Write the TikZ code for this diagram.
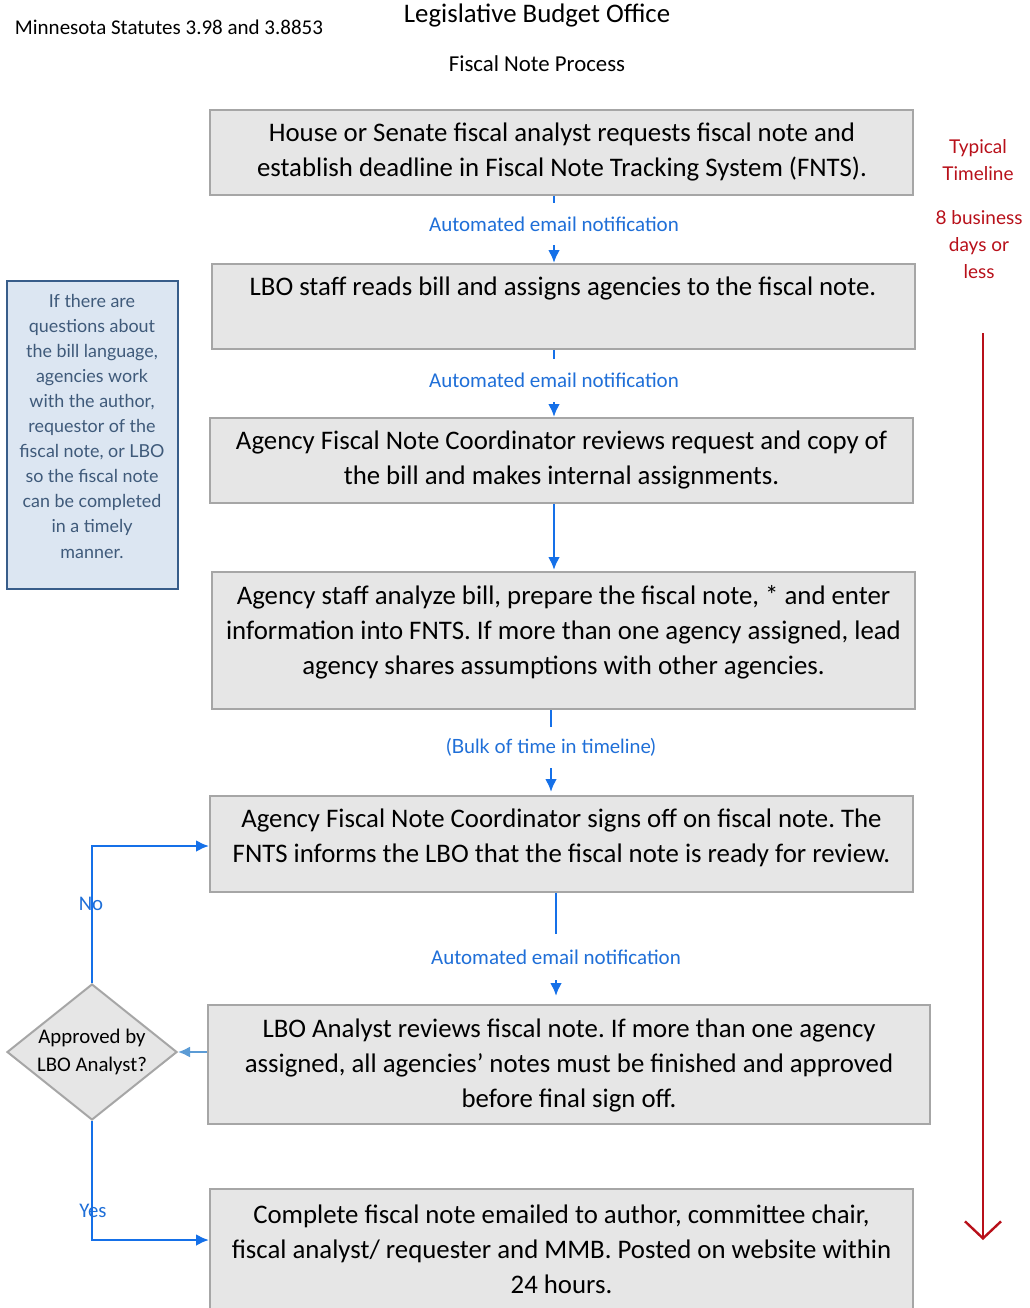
\documentclass[tikz,border=0pt]{standalone}
\usepackage{fontspec}
\setmainfont{Carlito}
\newfontfamily\latofont{Lato}
\usetikzlibrary{arrows.meta,shapes.geometric}
\definecolor{boxfill}{HTML}{E6E6E6}
\definecolor{boxborder}{HTML}{A6A6A6}
\definecolor{connblue}{HTML}{1570E8}
\definecolor{lblblue}{HTML}{1F6FD8}
\definecolor{sidefill}{HTML}{DCE6F2}
\definecolor{sideborder}{HTML}{385D8A}
\definecolor{sidetext}{HTML}{3F5A7A}
\definecolor{tlred}{HTML}{B8101A}
\definecolor{lightarrow}{HTML}{5B9BD5}
\frenchspacing
\begin{document}
\begin{tikzpicture}[x=1pt,y=-1pt,
  box/.style={draw=boxborder, fill=boxfill, line width=2pt, inner sep=0pt},
  boxtext/.style={align=center, inner sep=0pt, font=\fontsize{26.8}{35}\selectfont},
  conn/.style={draw=connblue, line width=2.8pt},
  tip/.style={-{Latex[length=13pt,width=12pt]}},
  lbl/.style={fill=white, inner sep=0pt, text=lblblue, font=\fontsize{21}{24}\selectfont},
  hdr/.style={inner sep=0pt, font=\fontsize{21}{24}\selectfont}
]
\useasboundingbox (0,0) rectangle (1029,1308);

% header
\node[hdr] (h1) at (169,27) {Minnesota Statutes 3.98 and 3.8853};
\node[inner sep=0pt, font=\fontsize{26.8}{30}\selectfont] (h2) at (537,16) {Legislative Budget Office};
\node[inner sep=0pt, font=\fontsize{22.8}{26}\selectfont] (h3) at (537,64) {Fiscal Note Process};

% boxes
\node[box, minimum width=703pt, minimum height=85pt] (b1) at (561.5,152.5) {};
\node[box, minimum width=703pt, minimum height=85pt] (b2) at (563.5,306.5) {};
\node[box, minimum width=703pt, minimum height=85pt] (b3) at (561.5,460.5) {};
\node[box, minimum width=703pt, minimum height=137pt] (b4) at (563.5,640.5) {};
\node[box, minimum width=703pt, minimum height=96pt] (b5) at (561.5,844) {};
\node[box, minimum width=722pt, minimum height=119pt] (b6) at (569,1064.5) {};
\node[box, minimum width=703pt, minimum height=135pt] (b7) at (561.5,1256.5) {};

\node[boxtext] (t1) at (562,151.5) {House or Senate fiscal analyst requests fiscal note and\\establish deadline in Fiscal Note Tracking System (FNTS).};
\node[boxtext] (t2) at (563,288) {LBO staff reads bill and assigns agencies to the fiscal note.};
\node[boxtext] (t3) at (561.5,459.5) {Agency Fiscal Note Coordinator reviews request and copy of\\the bill and makes internal assignments.};
\node[boxtext] (t4) at (563.5,632) {Agency staff analyze bill, prepare the fiscal note, * and enter\\information into FNTS. If more than one agency assigned, lead\\agency shares assumptions with other agencies.};
\node[boxtext] (t5) at (561.5,837.5) {Agency Fiscal Note Coordinator signs off on fiscal note. The\\FNTS informs the LBO that the fiscal note is ready for review.};
\node[boxtext] (t6) at (569,1065) {LBO Analyst reviews fiscal note. If more than one agency\\assigned, all agencies' notes must be finished and approved\\before final sign off.};
\node[boxtext] (t7) at (561.5,1249) {Complete fiscal note emailed to author, committee chair,\\fiscal analyst/ requester and MMB. Posted on website within\\24 hours.};

% vertical connectors
\coordinate (x1) at (554,0);
\coordinate (x4) at (551,0);
\coordinate (x5) at (556,0);
\draw[conn, tip] (b1.south -| x1) -- node[lbl, pos=0.42, minimum height=42pt] (l1) {Automated email notification} (b2.north -| x1);
\draw[conn, tip] (b2.south -| x1) -- node[lbl, pos=0.45, minimum height=43pt] (l2) {Automated email notification} (b3.north -| x1);
\draw[conn, tip, shorten >=1pt] (b3.south -| x1) -- (b4.north -| x1);
\draw[conn, tip, shorten >=3pt] (b4.south -| x4) -- node[lbl, pos=0.44, minimum height=41pt, font=\latofont\fontsize{19.6}{22}\selectfont] (l3) {(Bulk of time in timeline)} (b5.north -| x4);
\draw[conn, tip, shorten >=8pt] (b5.south -| x5) -- node[lbl, pos=0.58, minimum height=46pt] (l4) {Automated email notification} (b6.north -| x5);

% sidebar
\node[draw=sideborder, fill=sidefill, line width=2pt, minimum width=171pt, minimum height=308pt, inner sep=0pt] (side) at (92.5,435) {};
\node[align=center, inner sep=0pt, text=sidetext, font=\latofont\fontsize{17.9}{25.1}\selectfont] (sidet) at (92,426) {If there are\\questions about\\the bill language,\\agencies work\\with the author,\\requestor of the\\fiscal note, or LBO\\so the fiscal note\\can be completed\\in a timely\\manner.};

% timeline
\node[align=center, inner sep=0pt, text=tlred, font=\latofont\fontsize{19}{27}\selectfont] (tl1) at (978,160.5) {Typical\\Timeline};
\node[align=center, inner sep=0pt, text=tlred, font=\latofont\fontsize{19}{27}\selectfont] (tl2) at (979,245) {8 business\\days or\\less};
\coordinate (rtop) at (983,333);
\coordinate (rbot) at (983,1240);
\draw[draw=tlred, line width=2pt, -{Straight Barb[length=17pt,width=36pt,line width=2.4pt]}] (rtop) -- (rbot);

% decision
\node[diamond, draw=boxborder, fill=boxfill, line width=2pt, minimum width=170pt, minimum height=136pt, inner sep=0pt] (dia) at (92,1052) {};
\node[align=center, inner sep=0pt, font=\fontsize{20.8}{28}\selectfont] (diat) at (92,1052) {Approved by\\LBO Analyst?};

\draw[draw=lightarrow, line width=2pt, -{Latex[length=12pt,width=11pt]}] (b6.west |- dia.east) -- (dia.east);

\coordinate (noy) at (0,846);
\coordinate (yesy) at (0,1240);
\draw[conn, tip] (dia.north) |- (b5.west |- noy);
\draw[conn, tip] (dia.south) |- (b7.west |- yesy);
\node[inner sep=0pt, text=lblblue, font=\fontsize{20.8}{24}\selectfont] (no) at (91,904) {No};
\node[inner sep=0pt, text=lblblue, font=\fontsize{20.8}{24}\selectfont] (yes) at (93,1211) {Yes};
\end{tikzpicture}
\end{document}
